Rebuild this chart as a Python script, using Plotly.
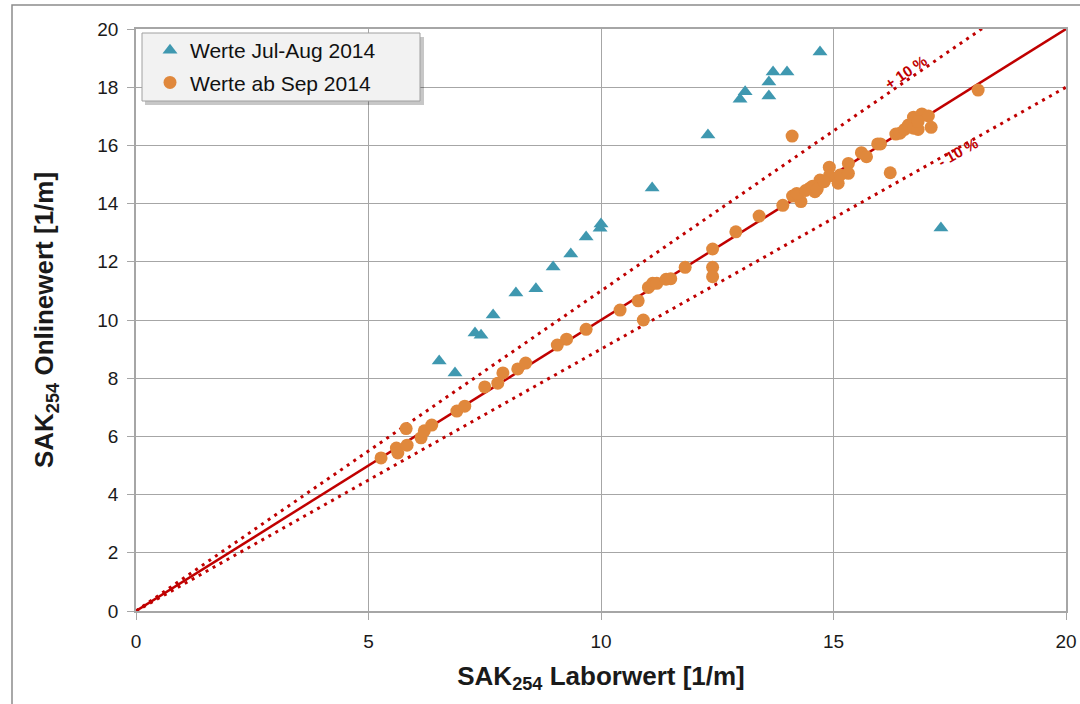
import plotly.graph_objects as go

# ---- data ----
jul_aug_x = [6.52, 6.86, 7.29, 7.42, 7.68, 8.17, 8.60, 8.97, 9.35, 9.68, 9.98, 10.00,
             11.10, 12.30, 12.99, 13.10, 13.61, 13.61, 13.70, 14.00, 14.71, 17.31]
jul_aug_y = [8.59, 8.18, 9.55, 9.48, 10.17, 10.93, 11.07, 11.82, 12.27, 12.85, 13.15, 13.30,
             14.54, 16.36, 17.59, 17.84, 17.70, 18.18, 18.52, 18.52, 19.21, 13.16]

sep_x = [5.27, 5.60, 5.63, 5.81, 5.83, 6.13, 6.20, 6.36, 6.90, 7.07, 7.50, 7.78, 7.89, 8.21, 8.38,
         9.06, 9.26, 9.68, 10.41, 10.91, 10.80, 11.02, 11.11, 11.20, 11.40, 11.50, 11.81,
         12.40, 12.40, 12.40, 12.90, 13.40, 13.91, 14.12, 14.30, 14.21, 14.49, 14.60, 14.71,
         14.91, 14.91, 15.10, 15.14, 15.32, 15.32, 15.60, 15.71, 15.95, 14.11,
         16.01, 16.34, 16.43, 16.53, 16.61, 16.72, 16.72, 16.82, 16.90, 17.04, 17.10, 16.82,
         18.11, 16.22, 14.40, 14.55, 14.65, 14.80]
sep_y = [5.26, 5.60, 5.43, 6.27, 5.70, 5.95, 6.19, 6.39, 6.87, 7.04, 7.70, 7.83, 8.18, 8.32, 8.52,
         9.14, 9.34, 9.68, 10.34, 10.00, 10.66, 11.12, 11.26, 11.26, 11.40, 11.42, 11.81,
         11.81, 11.49, 12.44, 13.03, 13.57, 13.94, 14.26, 14.07, 14.35, 14.53, 14.41, 14.81,
         15.25, 14.95, 14.70, 14.98, 15.38, 15.04, 15.75, 15.61, 16.05, 16.32,
         16.05, 16.39, 16.42, 16.55, 16.70, 16.97, 16.59, 16.55, 17.08, 17.01, 16.62, 16.82,
         17.90, 15.06, 14.45, 14.60, 14.50, 14.75]

ref_x = [0, 20]
factor_line = 1.0
factor_plus = 1.1
factor_minus = 0.9

x_ticks = [0, 5, 10, 15, 20]
y_ticks = [0, 2, 4, 6, 8, 10, 12, 14, 16, 18, 20]

RED = "#C00000"
FONT = "Liberation Sans, Arial, sans-serif"
W, H = 1080, 704
L, R, T, B = 136, 14, 29, 93
PW, PH = W - L - R, H - T - B


def px_x(p):
    return (p - L) / PW


def px_y(p):
    return (H - B - p) / PH


fig = go.Figure()

fig.add_trace(go.Scatter(x=ref_x, y=[v * factor_plus for v in ref_x], mode="lines",
                         line=dict(color=RED, width=3, dash="3px,5px"), showlegend=False,
                         hoverinfo="skip"))
fig.add_trace(go.Scatter(x=ref_x, y=[v * factor_minus for v in ref_x], mode="lines",
                         line=dict(color=RED, width=3, dash="3px,5px"), showlegend=False,
                         hoverinfo="skip"))
fig.add_trace(go.Scatter(x=ref_x, y=[v * factor_line for v in ref_x], mode="lines",
                         line=dict(color=RED, width=2.5), showlegend=False, hoverinfo="skip"))

fig.add_trace(go.Scatter(x=jul_aug_x, y=jul_aug_y, mode="markers", name="Werte Jul-Aug 2014",
                         legendgroup="a",
                         marker=dict(symbol="triangle-up", size=13, color="#3F98B0")))
fig.add_trace(go.Scatter(x=sep_x, y=sep_y, mode="markers", name="Werte ab Sep 2014",
                         legendgroup="b",
                         marker=dict(symbol="circle", size=13, color="#E0883C")))

fig.add_annotation(x=16.54, y=18.52, text="<b>+ 10 %</b>", showarrow=False, textangle=-34.5,
                   font=dict(family=FONT, size=15, color=RED))
fig.add_annotation(x=17.66, y=15.77, text="<b>- 10 %</b>", showarrow=False, textangle=-29.4,
                   font=dict(family=FONT, size=15, color=RED))

# chart border
fig.add_shape(type="rect", xref="paper", yref="paper", x0=px_x(12), x1=px_x(1100),
              y0=px_y(720), y1=px_y(5),
              line=dict(color="#8C8C8C", width=1.5), layer="below")
# legend shadow and box
fig.add_shape(type="rect", xref="paper", yref="paper", x0=px_x(145), x1=px_x(424),
              y0=px_y(105), y1=px_y(37),
              line=dict(width=0), fillcolor="rgba(0,0,0,0.22)", layer="above")
fig.add_shape(type="rect", xref="paper", yref="paper", x0=px_x(142), x1=px_x(420),
              y0=px_y(101), y1=px_y(33),
              line=dict(color="#A0A0A0", width=1), fillcolor="#F2F2F2", layer="above")

axis_common = dict(showgrid=True, gridcolor="#A6A6A6", gridwidth=1.2, zeroline=False,
                   showline=True, linecolor="#A6A6A6", linewidth=1.5, mirror=True,
                   ticks="outside", ticklen=7, tickcolor="#A6A6A6", ticklabelstandoff=5,
                   automargin=False,
                   tickfont=dict(family=FONT, size=19, color="#1a1a1a"))

fig.update_layout(
    width=W, height=H, autosize=False,
    margin=dict(l=L, r=R, t=T, b=B, autoexpand=False),
    paper_bgcolor="white", plot_bgcolor="white",
    font=dict(family=FONT),
    xaxis=dict(range=[0, 20], tickvals=x_ticks, **axis_common,
               title=dict(text="<b>SAK<sub>254</sub> Laborwert [1/m]</b>",
                          font=dict(family=FONT, size=26, color="#1a1a1a"), standoff=16)),
    yaxis=dict(range=[0, 20], tickvals=y_ticks, **axis_common,
               title=dict(text="<b>SAK<sub>254</sub> Onlinewert [1/m]</b>",
                          font=dict(family=FONT, size=26, color="#1a1a1a"), standoff=36)),
    legend=dict(x=px_x(150), y=px_y(30), xanchor="left", yanchor="top",
                bgcolor="rgba(0,0,0,0)", borderwidth=0,
                font=dict(family=FONT, size=21, color="#111"), itemwidth=30,
                tracegroupgap=2),
)

fig.write_html("out.html", config={"displayModeBar": False, "responsive": False},
               post_script="document.body.style.margin='0';document.body.style.overflow='hidden';")
